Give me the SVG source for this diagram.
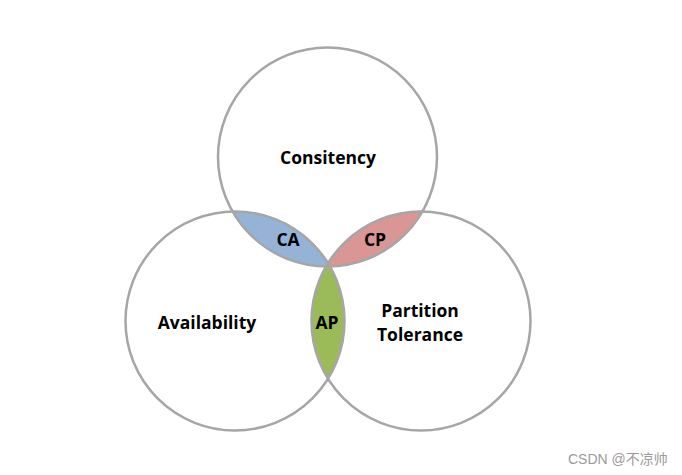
<svg xmlns="http://www.w3.org/2000/svg" width="682" height="475" viewBox="0 0 682 475">
<style>
.c{fill:none;stroke:#A6A6A6;stroke-width:2.5}
.t{font-family:"Open Sans","Liberation Sans",Arial,sans-serif;font-weight:bold;font-size:17.5px;fill:#000;text-anchor:middle}
.w{font-family:"Liberation Sans","Noto Sans CJK SC",sans-serif;font-size:14px;fill:#9a9a9a}
</style>
<defs>
<clipPath id="cT"><circle cx="327.5" cy="157" r="109.5"/></clipPath>
<clipPath id="cL"><circle cx="235" cy="321" r="109.5"/></clipPath>
<clipPath id="cR"><circle cx="421" cy="321" r="109.5"/></clipPath>
</defs>
<rect width="682" height="475" fill="#fff"/>
<g id="CA"><circle cx="235" cy="321" r="109.5" fill="#95B3D7" clip-path="url(#cT)"/></g>
<g id="CP"><circle cx="421" cy="321" r="109.5" fill="#D99694" clip-path="url(#cT)"/></g>
<g id="AP"><circle cx="421" cy="321" r="109.5" fill="#9BBB59" clip-path="url(#cL)"/></g>
<g id="Consistency"><circle class="c" cx="327.5" cy="157" r="109.5"/><text class="t" x="328" y="164">Consitency</text></g>
<g id="Availability"><circle class="c" cx="235" cy="321" r="109.5"/><text class="t" x="207" y="329">Availability</text></g>
<g id="Partition"><circle class="c" cx="421" cy="321" r="109.5"/><text class="t" x="420" y="317">Partition</text><text class="t" x="420" y="341">Tolerance</text></g>
<g id="labels">
<text class="t" x="288" y="246">CA</text>
<text class="t" x="375" y="246">CP</text>
<text class="t" x="327" y="329">AP</text>
</g>
<text class="w" x="568" y="464">CSDN @不凉帅</text>
</svg>
